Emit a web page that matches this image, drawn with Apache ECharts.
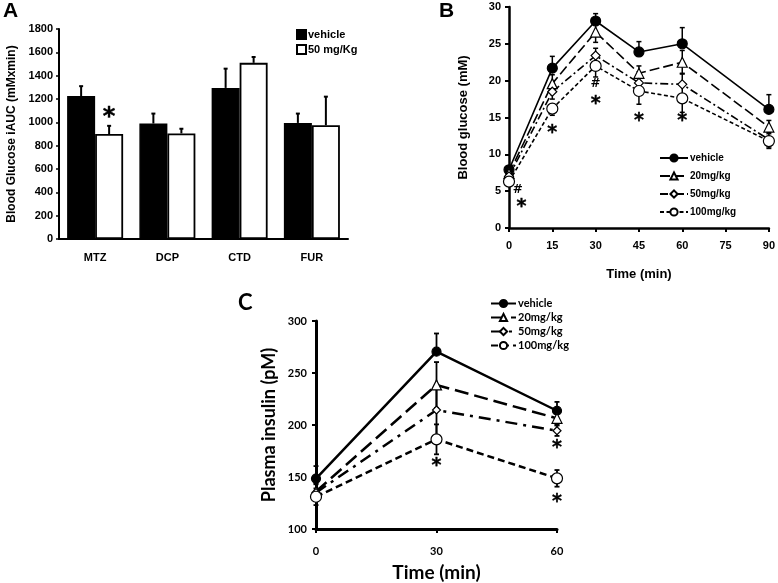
<!DOCTYPE html>
<html><head><meta charset="utf-8">
<script src="https://cdn.jsdelivr.net/npm/echarts@6/dist/echarts.min.js"></script>
<style>html,body{margin:0;padding:0;background:#fff}#c{width:778px;height:583px}</style>
</head><body><div id="c"></div>
<script>
// ---- Panel A data ----
const catsA = ['MTZ', 'DCP', 'CTD', 'FUR'];
const vehA = [1225, 990, 1295, 995];
const vehAErr = [85, 85, 165, 80];
const d50A = [900, 905, 1510, 975];
const d50AErr = [70, 40, 50, 245];
const ticksA = [0, 1800, 200];
// ---- Panel B data ----
const timeB = [0, 15, 30, 45, 60, 90];
const vehB = [7.9, 21.7, 28.1, 23.9, 25.0, 16.1];
const vehBErr = [0.5, 1.6, 1.0, 1.4, 2.2, 2.0];
const d20B = [7.4, 19.6, 26.6, 21.0, 22.5, 13.7];
const d20BErr = [0.5, 1.2, 1.4, 1.0, 1.6, 0.9];
const d50B = [7.0, 18.5, 23.4, 19.7, 19.5, 12.0];
const d50BErr = [0.5, 1.0, 1.0, 1.2, 1.5, 1.0];
const d100B = [6.3, 16.2, 22.0, 18.6, 17.6, 11.8];
const d100BErr = [0.5, 0.9, 1.5, 1.8, 1.9, 1.0];
const annB = [[3.0, 5.2, '#'], [4.3, 3.3, '*'], [15, 13.4, '*'], [30, 19.6, '#'], [30, 17.3, '*'], [45, 15.0, '*'], [60, 15.0, '*']];
// ---- Panel C data ----
const timeC = [0, 30, 60];
const vehC = [148.5, 270.5, 213.7];
const vehCErr = [12, 17.5, 8.5];
const d20C = [136, 238.5, 206.4];
const d20CErr = [8, 22, 6];
const d50C = [135, 214.4, 194.5];
const d50CErr = [8, 24, 5];
const d100C = [131, 186.2, 148.7];
const d100CErr = [8, 14.4, 8];
const annC = [[30, 164, '*'], [60, 181, '*'], [60, 129, '*']];
const legB = ['vehicle', '20mg/kg', '50mg/kg', '100mg/kg'];

const FA = 'Liberation Sans';
const FC = 'Lato';
const FS = 'DejaVu Sans';

function pts(xs, ys, es) { return xs.map((x, i) => [x, ys[i], es[i]]); }

function errRender(dir, off, lw, capHalf) {
  return function (params, api) {
    const x = api.value(0), y = api.value(1), e = api.value(2);
    const lo = dir === 'up' ? y : y - e;
    const hi = dir === 'down' ? y : y + e;
    const p1 = api.coord([x, lo]), p2 = api.coord([x, hi]);
    const ox = off || 0;
    const st = { stroke: '#000', lineWidth: lw };
    const ch = [{ type: 'line', shape: { x1: p1[0] + ox, y1: p1[1], x2: p2[0] + ox, y2: p2[1] }, style: st }];
    if (dir !== 'down') ch.push({ type: 'line', shape: { x1: p2[0] + ox - capHalf, y1: p2[1], x2: p2[0] + ox + capHalf, y2: p2[1] }, style: st });
    if (dir !== 'up') ch.push({ type: 'line', shape: { x1: p1[0] + ox - capHalf, y1: p1[1], x2: p1[0] + ox + capHalf, y2: p1[1] }, style: st });
    return { type: 'group', children: ch };
  };
}

function errSeries(xi, yi, data, dir, off, lw, cap, z) {
  return { type: 'custom', xAxisIndex: xi, yAxisIndex: yi, data: data, renderItem: errRender(dir, off, lw, cap), z: z, silent: true, encode: { x: 0, y: 1 } };
}

function lineSeries(name, xi, data, symbol, size, filled, dash, lw) {
  return {
    name: name, type: 'line', xAxisIndex: xi, yAxisIndex: xi,
    data: data, symbol: symbol, symbolSize: size, showAllSymbol: true, z: 3,
    lineStyle: { color: '#000', width: lw, type: dash },
    itemStyle: { color: filled ? '#000' : '#fff', borderColor: '#000', borderWidth: 1.2, opacity: 1 }
  };
}

function starRich(size) {
  return {
    s: { fontSize: size, fontWeight: 'bold', fontFamily: FS, color: '#000', textBorderColor: '#000', textBorderWidth: 0.4, padding: [Math.round(size * 0.38), 0, 0, 0] },
    h: { fontSize: 12, fontWeight: 'bold', fontFamily: FS, color: '#000' }
  };
}

function annSeries(xi, arr, size, offset) {
  return {
    type: 'scatter', xAxisIndex: xi, yAxisIndex: xi, symbolSize: 0, z: 5, silent: true,
    itemStyle: { color: '#000', opacity: 1 },
    data: arr.map(a => ({ value: [a[0], a[1]], name: a[2] })),
    label: {
      show: true, position: 'inside', offset: offset || [0, 0], color: '#000',
      formatter: p => p.name === '*' ? '{s|*}' : '{h|#}',
      rich: starRich(size)
    }
  };
}

const chart = echarts.init(document.getElementById('c'), null, { renderer: 'canvas' });
const labA = { color: '#000', fontFamily: FA, fontWeight: 'bold', fontSize: 11 };
const labC = { color: '#000', fontFamily: FC, fontWeight: 'bold', fontSize: 11 };
const axLine = w => ({ show: true, lineStyle: { color: '#000', width: w } });

const option = {
  animation: false,
  backgroundColor: '#fff',
  graphic: [
    { type: 'text', left: 3, top: 1, style: { text: 'A', font: 'bold 21px "Liberation Sans"', fill: '#000' } },
    { type: 'text', left: 439, top: 1, style: { text: 'B', font: 'bold 21px "Liberation Sans"', fill: '#000' } },
    { type: 'text', left: 238, top: 292, style: { text: 'C', font: 'bold 22px Lato', fill: '#000' } }
  ],
  grid: [
    { left: 59, top: 29, width: 289, height: 210 },
    { left: 509, top: 7, width: 260, height: 221 },
    { left: 316, top: 321, width: 241, height: 208 }
  ],
  legend: [
    {
      left: 291, top: 24, orient: 'vertical', itemGap: 4, itemWidth: 9, itemHeight: 9, icon: 'rect',
      data: ['A:vehicle', 'A:50 mg/Kg'], formatter: n => n.slice(2), selectedMode: false,
      textStyle: { color: '#000', fontFamily: FA, fontWeight: 'bold', fontSize: 11, padding: [0, 0, 0, -3] }
    },
    {
      left: 654, top: 148, orient: 'vertical', itemGap: 8, itemWidth: 28, itemHeight: 9,
      data: legB.map(n => 'B:' + n), formatter: n => n.slice(2), selectedMode: false,
      textStyle: { color: '#000', fontFamily: FA, fontWeight: 'bold', fontSize: 10, padding: [0, 0, 0, -3] }
    },
    {
      left: 485, top: 293, orient: 'vertical', itemGap: 3, itemWidth: 25, itemHeight: 9,
      data: legB.map(n => 'C:' + n), formatter: n => n.slice(2), selectedMode: false,
      textStyle: { color: '#000', fontFamily: FC, fontWeight: 'bold', fontSize: 11, padding: [0, 0, 0, -3] }
    }
  ],
  xAxis: [
    {
      gridIndex: 0, type: 'category', data: catsA, axisLine: axLine(2), axisTick: { show: false },
      axisLabel: Object.assign({ margin: 13 }, labA)
    },
    {
      gridIndex: 1, type: 'value', min: 0, max: 90, interval: 15, axisLine: axLine(2.5),
      axisTick: { show: true, length: 4, inside: false, lineStyle: { width: 2, color: '#000' } },
      splitLine: { show: false }, axisLabel: Object.assign({ margin: 12 }, labA),
      name: 'Time (min)', nameLocation: 'middle', nameGap: 40,
      nameTextStyle: { color: '#000', fontFamily: FA, fontWeight: 'bold', fontSize: 13 }
    },
    {
      gridIndex: 2, type: 'value', min: 0, max: 60, interval: 30, axisLine: axLine(3),
      axisTick: { show: true, length: 4, lineStyle: { width: 2, color: '#000' } },
      splitLine: { show: false }, axisLabel: Object.assign({ margin: 17 }, labC),
      name: 'Time (min)', nameLocation: 'middle', nameGap: 34,
      nameTextStyle: { color: '#000', fontFamily: FC, fontWeight: 'bold', fontSize: 19 }
    }
  ],
  yAxis: [
    {
      gridIndex: 0, type: 'value', min: ticksA[0], max: ticksA[1], interval: ticksA[2], axisLine: axLine(2),
      axisTick: { show: true, length: 3, lineStyle: { width: 1.5, color: '#000' } },
      splitLine: { show: false }, axisLabel: Object.assign({ margin: 6, formatter: v => String(v) }, labA),
      name: 'Blood Glucose iAUC (mMxmin)', nameLocation: 'middle', nameGap: 41,
      nameTextStyle: { color: '#000', fontFamily: FA, fontWeight: 'bold', fontSize: 12 }
    },
    {
      gridIndex: 1, type: 'value', min: 0, max: 30, interval: 5, axisLine: axLine(2.5),
      axisTick: { show: true, length: 4, lineStyle: { width: 2, color: '#000' } },
      splitLine: { show: false }, axisLabel: Object.assign({ margin: 8 }, labA),
      name: 'Blood glucose (mM)', nameLocation: 'middle', nameGap: 39,
      nameTextStyle: { color: '#000', fontFamily: FA, fontWeight: 'bold', fontSize: 13 }
    },
    {
      gridIndex: 2, type: 'value', min: 100, max: 300, interval: 50, axisLine: axLine(3),
      axisTick: { show: true, length: 4, lineStyle: { width: 2, color: '#000' } },
      splitLine: { show: false }, axisLabel: Object.assign({ margin: 9 }, labC),
      name: 'Plasma insulin (pM)', nameLocation: 'middle', nameGap: 38,
      nameTextStyle: { color: '#000', fontFamily: FC, fontWeight: 'bold', fontSize: 18 }
    }
  ],
  series: [
    // Panel A
    {
      name: 'A:vehicle', type: 'bar', xAxisIndex: 0, yAxisIndex: 0, data: vehA, barWidth: 28, barGap: '0%',
      itemStyle: { color: '#000', borderColor: '#000', borderWidth: 1.5 }
    },
    {
      name: 'A:50 mg/Kg', type: 'bar', xAxisIndex: 0, yAxisIndex: 0, data: d50A, barWidth: 28, barGap: '0%',
      itemStyle: { color: '#fff', borderColor: '#000', borderWidth: 1.8 }
    },
    errSeries(0, 0, catsA.map((c, i) => [i, vehA[i], vehAErr[i]]), 'up', -14, 2, 2, 4),
    errSeries(0, 0, catsA.map((c, i) => [i, d50A[i], d50AErr[i]]), 'up', 14, 2, 2, 4),
    {
      type: 'scatter', xAxisIndex: 0, yAxisIndex: 0, symbolSize: 0, z: 5, silent: true,
      itemStyle: { color: '#000', opacity: 1 },
      data: [{ value: ['MTZ', 1080], name: '*' }],
      label: { show: true, position: 'inside', offset: [14, 0], color: '#000', formatter: '{s|*}', rich: starRich(24) }
    },
    // Panel B
    lineSeries('B:vehicle', 1, pts(timeB, vehB, vehBErr), 'circle', 10, true, 'solid', 1.6),
    lineSeries('B:20mg/kg', 1, pts(timeB, d20B, d20BErr), 'triangle', 10, false, [10, 4], 1.6),
    lineSeries('B:50mg/kg', 1, pts(timeB, d50B, d50BErr), 'diamond', 9, false, [8, 3, 2, 3], 1.6),
    lineSeries('B:100mg/kg', 1, pts(timeB, d100B, d100BErr), 'circle', 11, false, [4, 2.5], 1.6),
    errSeries(1, 1, pts(timeB, vehB, vehBErr), 'up', 0, 1.5, 2.5, 1),
    errSeries(1, 1, pts(timeB, d20B, d20BErr), 'both', 0, 1.5, 2.5, 1),
    errSeries(1, 1, pts(timeB, d50B, d50BErr), 'both', 0, 1.5, 2.5, 1),
    errSeries(1, 1, pts(timeB, d100B, d100BErr), 'down', 0, 1.5, 2.5, 1),
    annSeries(1, annB, 19),
    // Panel C
    lineSeries('C:vehicle', 2, pts(timeC, vehC, vehCErr), 'circle', 9, true, 'solid', 2.5),
    lineSeries('C:20mg/kg', 2, pts(timeC, d20C, d20CErr), 'triangle', 10, false, [14, 6], 2.5),
    lineSeries('C:50mg/kg', 2, pts(timeC, d50C, d50CErr), 'diamond', 8, false, [12, 6, 3, 6], 2.5),
    lineSeries('C:100mg/kg', 2, pts(timeC, d100C, d100CErr), 'circle', 11, false, [7, 4], 2.5),
    errSeries(2, 2, pts(timeC, vehC, vehCErr), 'up', 0, 1.8, 2.5, 1),
    errSeries(2, 2, pts(timeC, d20C, d20CErr), 'both', 0, 1.8, 2.5, 1),
    errSeries(2, 2, pts(timeC, d50C, d50CErr), 'both', 0, 1.8, 2.5, 1),
    errSeries(2, 2, pts(timeC, d100C, d100CErr), 'both', 0, 1.8, 2.5, 1),
    annSeries(2, annC, 19)
  ]
};
chart.setOption(option);
</script></body></html>
